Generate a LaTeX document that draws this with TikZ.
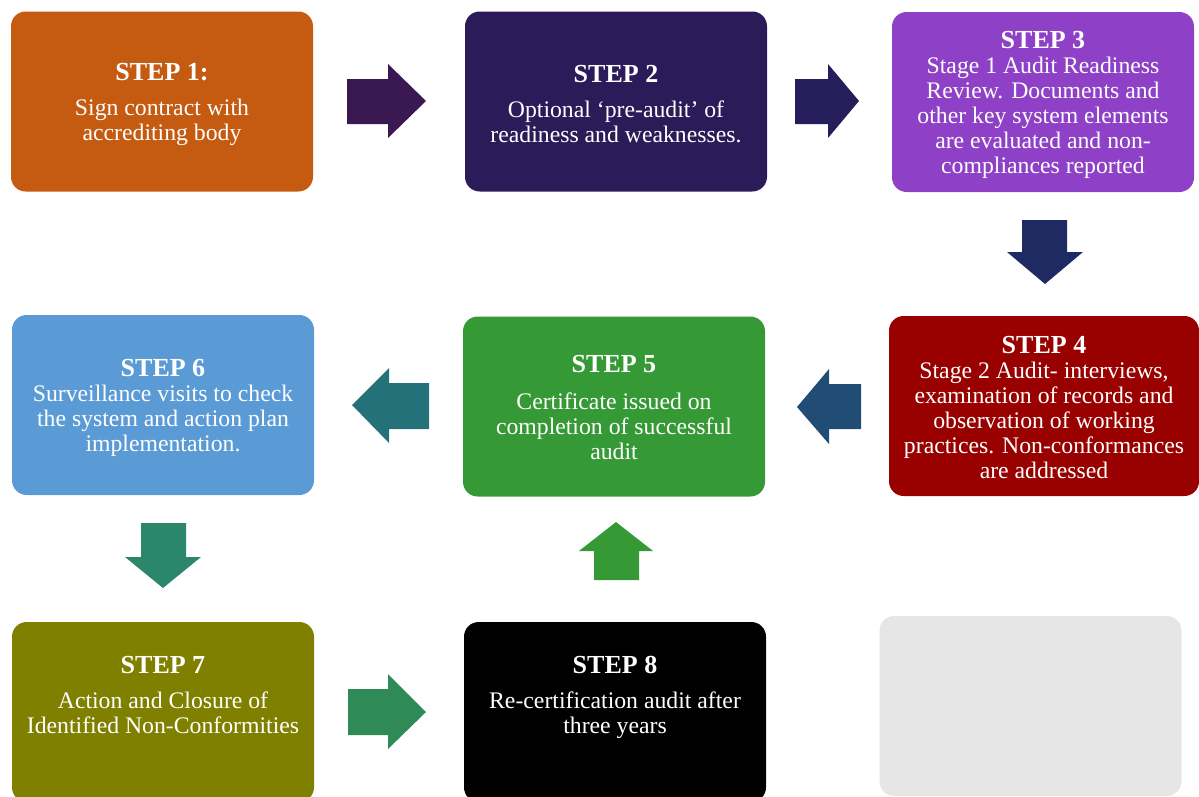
\documentclass[tikz,border=0pt]{standalone}
\usepackage{fontspec}
\setmainfont{Liberation Serif}
\definecolor{cS1}{HTML}{C55A11}
\definecolor{cS2}{HTML}{2B1B59}
\definecolor{cS3}{HTML}{8E40C6}
\definecolor{cS4}{HTML}{990000}
\definecolor{cS5}{HTML}{359A35}
\definecolor{cS6}{HTML}{5B9BD5}
\definecolor{cS7}{HTML}{808000}
\definecolor{cS8}{HTML}{000000}
\definecolor{cGray}{HTML}{E6E6E6}
\definecolor{cA12}{HTML}{3A1852}
\definecolor{cA23}{HTML}{261E5A}
\definecolor{cA34}{HTML}{1F2A63}
\definecolor{cA45}{HTML}{214C74}
\definecolor{cA56}{HTML}{25717A}
\definecolor{cA67}{HTML}{2A876C}
\definecolor{cA78}{HTML}{2E8B57}
\definecolor{cA85}{HTML}{359A35}
\begin{document}
\begin{tikzpicture}[x=0.75pt,y=-0.75pt,
  stepbox/.style={rounded corners=11pt, inner sep=0pt, minimum width=226.5pt, minimum height=135pt},
  steptext/.style={text=white, align=center, inner sep=0pt, font=\fontsize{17.8}{18.75}\selectfont}]
\useasboundingbox (0,0) rectangle (1199,796);
\newcommand{\stitle}[1]{{\bfseries\fontsize{19.5}{18.75}\selectfont #1}}
% boxes
\node[stepbox, fill=cS1] (s1) at (162,101.5) {};
\node[stepbox, fill=cS2] (s2) at (616,101.5) {};
\node[stepbox, fill=cS3] (s3) at (1043,102) {};
\node[stepbox, fill=cS4, minimum width=232.5pt] (s4) at (1044,406) {};
\node[stepbox, fill=cS5] (s5) at (614,406.5) {};
\node[stepbox, fill=cS6] (s6) at (163,405) {};
\node[stepbox, fill=cS7] (s7) at (163,712) {};
\node[stepbox, fill=cS8] (s8) at (615,712) {};
\node[stepbox, fill=cGray] (s9) at (1030.5,706) {};
% texts
\node[steptext] (t1) at (162,104.5) {\stitle{STEP 1:}\\[7.5pt] Sign contract with\\ accrediting body};
\node[steptext] (t2) at (616,104.5) {\stitle{STEP 2}\\[7.5pt] Optional ‘pre-audit’ of\\ readiness and weaknesses.};
\node[steptext] (t3) at (1043,105) {\stitle{STEP 3}\\ Stage 1 Audit Readiness\\ Review. Documents and\\ other key system elements\\ are evaluated and non-\\ compliances reported};
\node[steptext] (t4) at (1044,408) {\stitle{STEP 4}\\ Stage 2 Audit- interviews,\\ examination of records and\\ observation of working\\ practices. Non-conformances\\ are addressed};
\node[steptext] (t5) at (614,407.5) {\stitle{STEP 5}\\[8.5pt] Certificate issued on\\ completion of successful\\ audit};
\node[steptext] (t6) at (163,408) {\stitle{STEP 6}\\ Surveillance visits to check\\ the system and action plan\\ implementation.};
\node[steptext] (t7) at (163,695) {\stitle{STEP 7}\\[7.5pt] Action and Closure of\\ Identified Non-Conformities};
\node[steptext] (t8) at (615,697.5) {\stitle{STEP 8}\\[7.5pt] Re-certification audit after\\ three years};
% block arrows
\fill[cA12] (347,79)--(388,79)--(388,64)--(426,101)--(388,138)--(388,124)--(347,124)--cycle;
\fill[cA23] (795,79)--(828,79)--(828,64)--(859,101)--(828,138)--(828,124)--(795,124)--cycle;
\fill[cA34] (1022,220)--(1067,220)--(1067,252)--(1083,252)--(1045,284)--(1007,252)--(1022,252)--cycle;
\fill[cA45] (861,384)--(829,384)--(829,369)--(797,407)--(829,444)--(829,429)--(861,429)--cycle;
\fill[cA56] (429,383)--(389,383)--(389,368)--(352,405)--(389,443)--(389,429)--(429,429)--cycle;
\fill[cA67] (141,523)--(186,523)--(186,557)--(201,557)--(163,588)--(125,557)--(141,557)--cycle;
\fill[cA78] (348,689)--(388,689)--(388,674)--(426,712)--(388,749)--(388,735)--(348,735)--cycle;
\fill[cA85] (594,580)--(639,580)--(639,551)--(653,551)--(616,522)--(579,551)--(594,551)--cycle;
\end{tikzpicture}
\end{document}
